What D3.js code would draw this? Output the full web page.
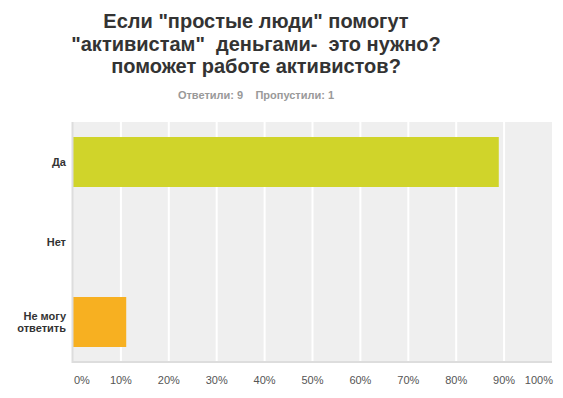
<!DOCTYPE html>
<html lang="ru">
<head>
    <meta charset="UTF-8">
    <title>d3.js</title>
    <script src="https://cdn.jsdelivr.net/npm/d3@7"></script>
</head>
<style>
    body { margin: 0; background: #fff; }
    svg { display: block; font-family: "Liberation Sans", Arial, sans-serif; }
</style>
<body>
<div id="output"></div>

<script>

var titleLines = ['Если "простые люди" помогут', '"активистам"  деньгами-  это нужно?', 'поможет работе активистов?'];
var subtitle = "Ответили: 9    Пропустили: 1";

var categories = ["Да", "Нет", "Не могу ответить"];
var percents = [88.89, 0, 11.11];
var colors = ["#d0d42a", "#7ab", "#f7b021"];
var ticks = [0, 10, 20, 30, 40, 50, 60, 70, 80, 90, 100];

var w = 563;
var h = 398;

var svg = d3.select("#output")
        .append("svg")
        .attr("width", w)
        .attr("height", h);

var plotLeft = 73, plotRight = 552, plotTop = 122, plotBottom = 362;

var xScale = d3.scaleLinear()
        .domain([0, 100])
        .range([plotLeft, plotRight]);

var yScale = d3.scaleBand()
        .domain(categories)
        .range([plotTop, plotBottom])
        .paddingInner(0.375)
        .paddingOuter(0.1875);

// title
svg.append("g").selectAll("text")
        .data(titleLines)
        .enter().append("text")
        .attr("x", 256)
        .attr("y", 28 )
        .attr("dy", function(d, i){ return i * 22.5; })
        .attr("text-anchor", "middle")
        .attr("font-size", 20)
        .attr("font-weight", "bold")
        .attr("fill", "#333")
        .style("white-space", "pre")
        .text(function(d){ return d; });

svg.append("text")
        .attr("x", 256)
        .attr("y", 99)
        .attr("text-anchor", "middle")
        .attr("font-size", 11)
        .attr("font-weight", "bold")
        .attr("fill", "#999")
        .style("white-space", "pre")
        .text(subtitle);

// plot background
svg.append("rect")
        .attr("x", plotLeft)
        .attr("y", plotTop)
        .attr("width", plotRight - plotLeft)
        .attr("height", plotBottom - plotTop)
        .attr("fill", "#efefef");

// grid
svg.append("g").selectAll("line")
        .data(ticks.slice(1, -1))
        .enter().append("line")
        .attr("x1", function(d){ return xScale(d); })
        .attr("x2", function(d){ return xScale(d); })
        .attr("y1", plotTop)
        .attr("y2", plotBottom)
        .attr("stroke", "#fff")
        .attr("stroke-width", 2);

// bars
svg.append("g").selectAll("rect")
        .data(categories)
        .enter().append("rect")
        .attr("x", xScale(0))
        .attr("y", function(d){ return yScale(d); })
        .attr("width", function(d, i){ return xScale(percents[i]) - xScale(0); })
        .attr("height", yScale.bandwidth())
        .attr("fill", function(d, i){ return colors[i]; });

// axis lines
svg.append("line")
        .attr("x1", plotLeft - 0.5).attr("x2", plotLeft - 0.5)
        .attr("y1", plotTop).attr("y2", plotBottom + 1)
        .attr("stroke", "#ddd").attr("stroke-width", 2);
svg.append("line")
        .attr("x1", plotLeft - 1).attr("x2", plotRight)
        .attr("y1", plotBottom).attr("y2", plotBottom)
        .attr("stroke", "#ddd").attr("stroke-width", 2);

// x tick labels
svg.append("g").selectAll("text")
        .data(ticks)
        .enter().append("text")
        .attr("x", function(d, i){
            if (i === 0) return xScale(d) + 1;
            if (i === ticks.length - 1) return xScale(d) + 1;
            return xScale(d);
        })
        .attr("y", 384)
        .attr("text-anchor", function(d, i){
            if (i === 0) return "start";
            if (i === ticks.length - 1) return "end";
            return "middle";
        })
        .attr("font-size", 11)
        .attr("fill", "#555")
        .text(function(d){ return d + "%"; });

// y labels
var yLabels = svg.append("g").selectAll("text")
        .data(categories)
        .enter().append("text")
        .attr("text-anchor", "end")
        .attr("font-size", 11)
        .attr("font-weight", "bold")
        .attr("fill", "#333")
        .attr("transform", function(d){
            return "translate(66," + (yScale(d) + yScale.bandwidth() / 2) + ")";
        });

yLabels.each(function(d){
    var words = d === "Не могу ответить" ? ["Не могу", "ответить"] : [d];
    var t = d3.select(this);
    words.forEach(function(wd, i){
        t.append("tspan")
            .attr("x", 0)
            .attr("y", (i - (words.length - 1) / 2) * 12.5 + 4)
            .text(wd);
    });
});

</script>
</body>
</html>
